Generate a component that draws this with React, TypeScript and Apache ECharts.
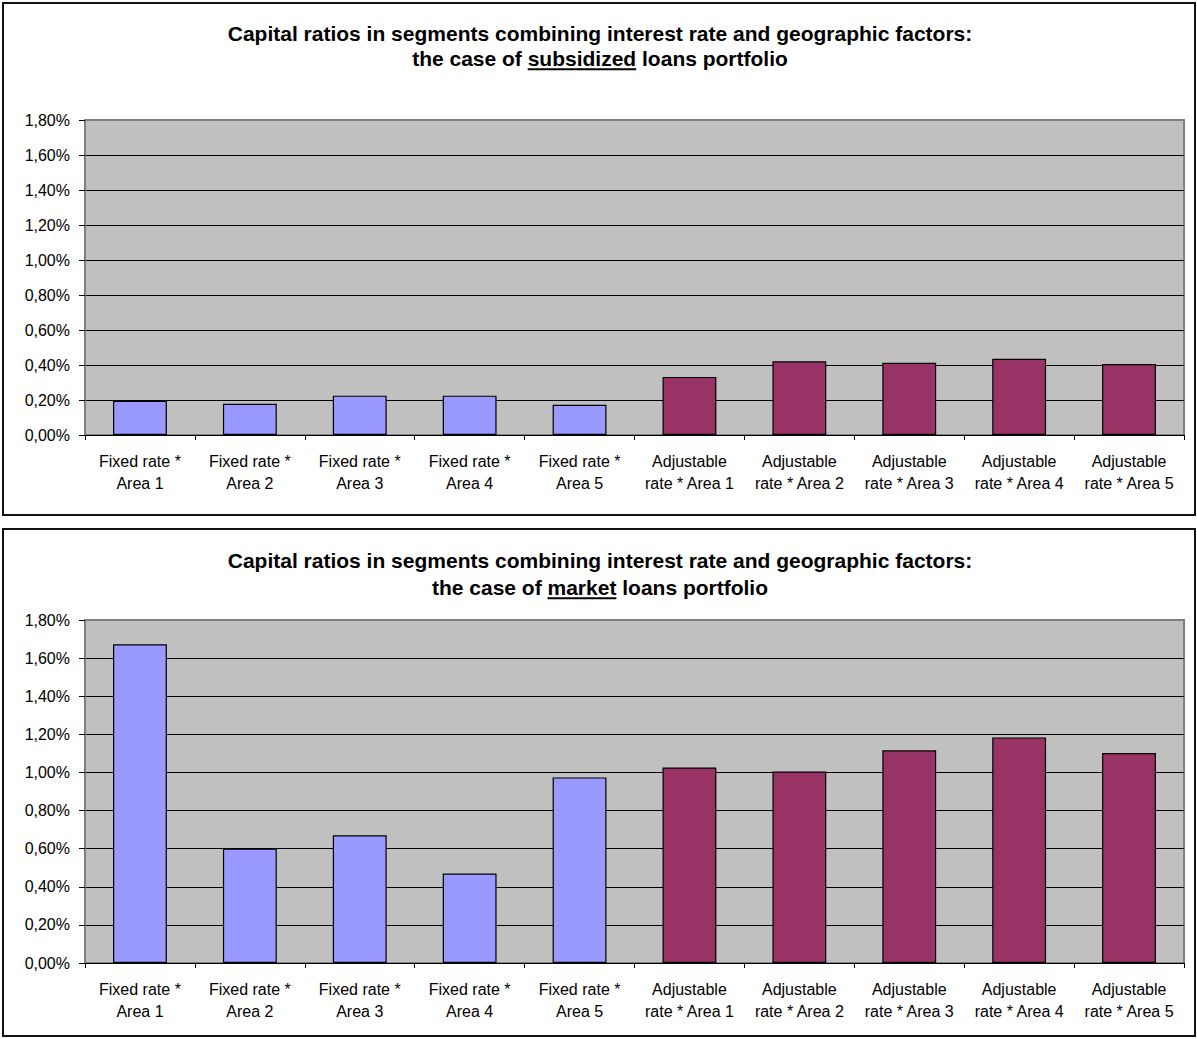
import React, { useEffect, useRef } from "react";
import * as echarts from "echarts";

// ---------- data ----------
const categories: string[] = [
  "Fixed rate *\nArea 1",
  "Fixed rate *\nArea 2",
  "Fixed rate *\nArea 3",
  "Fixed rate *\nArea 4",
  "Fixed rate *\nArea 5",
  "Adjustable\nrate * Area 1",
  "Adjustable\nrate * Area 2",
  "Adjustable\nrate * Area 3",
  "Adjustable\nrate * Area 4",
  "Adjustable\nrate * Area 5",
];

// values in percent
const subsidizedFixed: number[] = [0.195, 0.178, 0.225, 0.225, 0.173];
const subsidizedAdjustable: number[] = [0.332, 0.421, 0.413, 0.436, 0.406];
const marketFixed: number[] = [1.673, 0.6, 0.67, 0.47, 0.974];
const marketAdjustable: number[] = [1.026, 1.005, 1.116, 1.184, 1.102];

const yMin = 0;
const yMax = 1.8;
const yInterval = 0.2;

const titleLine1 =
  "Capital ratios in segments combining interest rate and geographic factors:";
const subsidizedTitleParts: string[] = ["the case of", "subsidized", "loans portfolio"];
const marketTitleParts: string[] = ["the case of", "market", "loans portfolio"];

// ---------- styling ----------
const FIXED_COLOR = "#9999FF";
const ADJ_COLOR = "#993366";
const PLOT_BG = "#C0C0C0";
const FONT = '"Liberation Sans", Arial, sans-serif';
const TITLE_SIZE = 21;
const LABEL_SIZE = 16;
const W = 1197;
const H = 1039;

function measure(text: string, size: number, bold: boolean): number {
  const c = document.createElement("canvas");
  const ctx = c.getContext("2d");
  if (!ctx) return text.length * size * 0.55;
  ctx.font = `${bold ? "bold " : ""}${size}px "Liberation Sans", Arial, sans-serif`;
  return ctx.measureText(text).width;
}

function fmtPct(v: number): string {
  return v.toFixed(2).replace(".", ",") + "%";
}

interface Panel {
  boxTop: number;
  boxBottom: number;
  line1Y: number;
  line2Y: number;
  gridTop: number;
  gridHeight: number;
  parts: string[];
  fixed: number[];
  adjustable: number[];
}

const panels: Panel[] = [
  {
    boxTop: 3,
    boxBottom: 515,
    line1Y: 33,
    line2Y: 58,
    gridTop: 120,
    gridHeight: 315,
    parts: subsidizedTitleParts,
    fixed: subsidizedFixed,
    adjustable: subsidizedAdjustable,
  },
  {
    boxTop: 529,
    boxBottom: 1036,
    line1Y: 560,
    line2Y: 587,
    gridTop: 620,
    gridHeight: 343,
    parts: marketTitleParts,
    fixed: marketFixed,
    adjustable: marketAdjustable,
  },
];

export default function App() {
  const ref = useRef<HTMLDivElement>(null);

  useEffect(() => {
    if (!ref.current) return;
    const chart = echarts.init(ref.current, null, { renderer: "svg", width: W, height: H });

    const grids: any[] = [];
    const xAxes: any[] = [];
    const yAxes: any[] = [];
    const series: any[] = [];
    const graphics: any[] = [];

    const centerX = 600;
    const spaceW = measure(" ", TITLE_SIZE, true);

    panels.forEach((p, i) => {
      grids.push({
        left: 85,
        right: 13,
        top: p.gridTop,
        height: p.gridHeight,
        show: true,
        backgroundColor: PLOT_BG,
        borderColor: "#808080",
        borderWidth: 2,
        containLabel: false,
      });
      xAxes.push({
        type: "category",
        gridIndex: i,
        data: categories,
        boundaryGap: true,
        axisLine: { show: true, lineStyle: { color: "#000", width: 1 } },
        axisTick: { show: true, length: 5, alignWithLabel: false, lineStyle: { color: "#000" } },
        axisLabel: {
          interval: 0,
          color: "#000",
          fontFamily: FONT,
          fontSize: LABEL_SIZE,
          lineHeight: 22,
          margin: 15,
        },
        splitLine: { show: false },
      });
      yAxes.push({
        type: "value",
        gridIndex: i,
        min: yMin,
        max: yMax,
        interval: yInterval,
        axisLine: { show: true, lineStyle: { color: "#808080", width: 2 } },
        axisTick: { show: true, length: 6, lineStyle: { color: "#000" } },
        axisLabel: {
          color: "#000",
          fontFamily: FONT,
          fontSize: LABEL_SIZE,
          margin: 15,
          formatter: (v: number) => fmtPct(v),
        },
        splitLine: {
          show: true,
          showMinLine: false,
          showMaxLine: false,
          lineStyle: { color: "#000", width: 1 },
        },
      });
      const data = [
        ...p.fixed.map((v) => ({ value: v, itemStyle: { color: FIXED_COLOR } })),
        ...p.adjustable.map((v) => ({ value: v, itemStyle: { color: ADJ_COLOR } })),
      ];
      series.push({
        type: "bar",
        xAxisIndex: i,
        yAxisIndex: i,
        data,
        barCategoryGap: "51%",
        itemStyle: { borderColor: "#000", borderWidth: 1.2 },
        emphasis: { disabled: true },
      });

      // panel border
      graphics.push({
        type: "rect",
        shape: { x: 3, y: p.boxTop, width: 1192, height: p.boxBottom - p.boxTop },
        style: { fill: "none", stroke: "#111", lineWidth: 2 },
        z: 100,
      });
      // title line 1
      graphics.push({
        type: "text",
        x: centerX,
        y: p.line1Y,
        style: {
          text: titleLine1,
          fontFamily: FONT,
          fontSize: TITLE_SIZE,
          fontWeight: "bold",
          fill: "#000",
          textAlign: "center",
          textVerticalAlign: "middle",
        },
        z: 100,
      });
      // title line 2 in three parts with an underlined middle word
      const w0 = measure(p.parts[0], TITLE_SIZE, true);
      const w1 = measure(p.parts[1], TITLE_SIZE, true);
      const w2 = measure(p.parts[2], TITLE_SIZE, true);
      const total = w0 + spaceW + w1 + spaceW + w2;
      const x0 = centerX - total / 2;
      const xs = [x0, x0 + w0 + spaceW, x0 + w0 + spaceW + w1 + spaceW];
      p.parts.forEach((t, k) => {
        graphics.push({
          type: "text",
          x: xs[k],
          y: p.line2Y,
          style: {
            text: t,
            fontFamily: FONT,
            fontSize: TITLE_SIZE,
            fontWeight: "bold",
            fill: "#000",
            textAlign: "left",
            textVerticalAlign: "middle",
          },
          z: 100,
        });
      });
      const baseline = p.line2Y + TITLE_SIZE * 0.3465;
      graphics.push({
        type: "rect",
        shape: { x: xs[1], y: baseline + 3, width: w1, height: 2 },
        style: { fill: "#000" },
        z: 100,
      });
    });

    chart.setOption({
      animation: false,
      backgroundColor: "#fff",
      grid: grids,
      xAxis: xAxes,
      yAxis: yAxes,
      series,
      graphic: { elements: graphics },
    });

    return () => {
      chart.dispose();
    };
  }, []);

  return (
    <div
      ref={ref}
      style={{ position: "absolute", left: 0, top: 0, width: W, height: H, background: "#fff" }}
    />
  );
}
